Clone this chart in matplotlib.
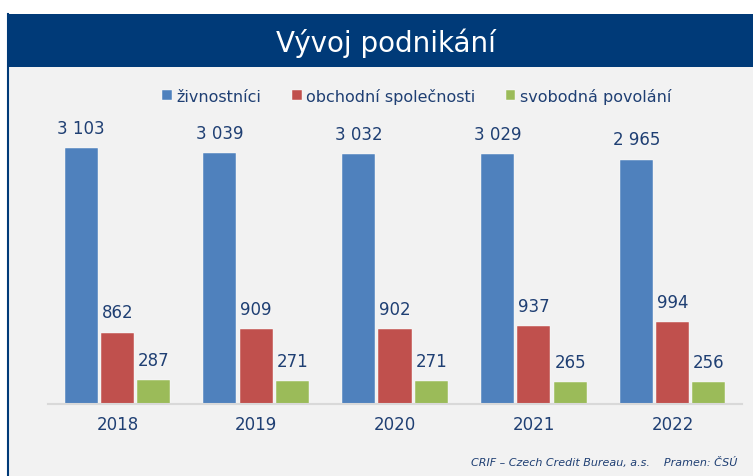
import matplotlib.pyplot as plt
from matplotlib.patches import Rectangle

years = ['2018', '2019', '2020', '2021', '2022']
zivnostnici = [3103, 3039, 3032, 3029, 2965]
spolecnosti = [862, 909, 902, 937, 994]
povolani = [287, 271, 271, 265, 256]

series_names = ['živnostníci', 'obchodní společnosti', 'svobodná povolání']
colors = ['#4F81BD', '#C0504D', '#9BBB59']
text_col = '#1F3F73'

W, H = 753, 477
fig = plt.figure(figsize=(W / 100, H / 100), dpi=100)
fig.patch.set_facecolor('white')

# grey panel, header and left border (pixel coords)
def px(x, y):
    return x / W, 1 - y / H

fig.patches.append(Rectangle(px(7, 477), 1, (477 - 68) / H, transform=fig.transFigure,
                             facecolor='#F2F2F2', edgecolor='none', zorder=-3))
fig.patches.append(Rectangle(px(7, 68), 1, (68 - 15) / H, transform=fig.transFigure,
                             facecolor='#003A78', edgecolor='none', zorder=-2))
fig.add_artist(plt.Line2D([7.5 / W, 7.5 / W], [0, 1 - 15 / H], transform=fig.transFigure,
                          color='#003A78', lw=1.5))
fig.text(386 / W, 1 - 43 / H, 'Vývoj podnikání', color='white', fontsize=20,
         ha='center', va='center')

ax = fig.add_axes([48 / W, (H - 404.5) / H, 694 / W, 288 / H])
ax.set_facecolor('none')
w = 0.238
off = 0.2615
x = list(range(len(years)))
for k, (vals, c, name) in enumerate(zip([zivnostnici, spolecnosti, povolani], colors, series_names)):
    xs = [i + (k - 1) * off for i in x]
    bars = ax.bar(xs, vals, width=w, color=c, label=name, zorder=2,
                  edgecolor='white', linewidth=0.3)
    for xi, v in zip(xs, vals):
        lab = '{:,}'.format(v).replace(',', ' ')
        ax.annotate(lab, (xi, v), xytext=(0, 8), textcoords='offset points',
                    ha='center', va='bottom', fontsize=12, color=text_col)

ax.set_xlim(-0.5, len(years) - 0.5)
ax.set_ylim(0, 3500)
ax.set_yticks([])
ax.set_xticks(x)
ax.set_xticklabels(years, fontsize=12, color=text_col)
ax.tick_params(axis='x', length=0, pad=8)
for s in ['top', 'right', 'left']:
    ax.spines[s].set_visible(False)
ax.spines['bottom'].set_color('#D9D9D9')
ax.spines['bottom'].set_linewidth(1.5)

fig.legend(loc='center', bbox_to_anchor=(417 / W, 1 - 97 / H), ncol=3, frameon=False,
           fontsize=11.5, handlelength=0.6, handleheight=0.6, handletextpad=0.3,
           columnspacing=1.9, labelcolor=text_col)

fig.text(737 / W, 1 - 463 / H, 'CRIF – Czech Credit Bureau, a.s.    Pramen: ČSÚ',
         fontsize=8, style='italic', color=text_col, ha='right', va='center')

fig.savefig('out.png', dpi=100)
